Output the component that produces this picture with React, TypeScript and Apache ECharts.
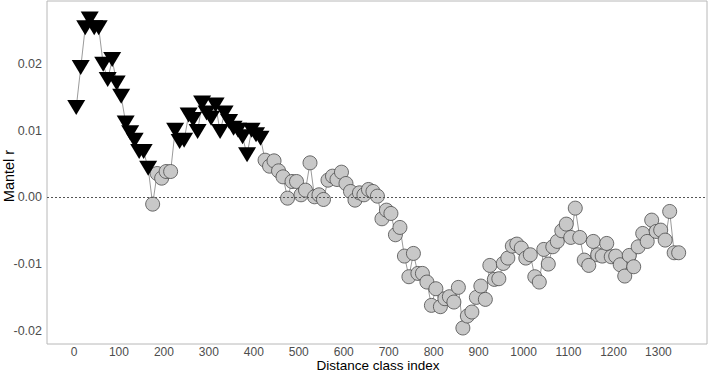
import React, { useEffect, useRef } from "react";
import * as echarts from "echarts";

const distanceClass = [
  5, 15, 25, 35, 45, 55, 65, 75, 85, 95, 105, 115, 125, 135, 145, 155, 165, 175, 185, 195,
  205, 215, 225, 235, 245, 255, 265, 275, 285, 295, 305, 315, 325, 335, 345, 355, 365, 375, 385, 395,
  405, 415, 425, 435, 445, 455, 465, 475, 485, 495, 505, 515, 525, 535, 545, 555, 565, 575, 585, 595,
  605, 615, 625, 635, 645, 655, 665, 675, 685, 695, 705, 715, 725, 735, 745, 755, 765, 775, 785, 795,
  805, 815, 825, 835, 845, 855, 865, 875, 885, 895, 905, 915, 925, 935, 945, 955, 965, 975, 985, 995,
  1005, 1015, 1025, 1035, 1045, 1055, 1065, 1075, 1085, 1095, 1105, 1115, 1125, 1135, 1145, 1155, 1165, 1175, 1185, 1195,
  1205, 1215, 1225, 1235, 1245, 1255, 1265, 1275, 1285, 1295, 1305, 1315, 1325, 1335, 1345,
];

const mantelR = [
  0.0135, 0.0195, 0.0255, 0.0268, 0.0255, 0.0255, 0.02, 0.0177, 0.0207, 0.0172,
  0.0152, 0.0112, 0.0097, 0.0086, 0.0069, 0.0069, 0.0044, -0.001, 0.0036, 0.0029,
  0.0039, 0.0039, 0.0101, 0.0084, 0.0086, 0.0124, 0.0117, 0.0099, 0.0142, 0.0127,
  0.0119, 0.0139, 0.0099, 0.0127, 0.0114, 0.0104, 0.0101, 0.0091, 0.0064, 0.0101,
  0.0094, 0.0089, 0.0056, 0.0047, 0.0055, 0.004, 0.0031, -0.0001, 0.0024, 0.0024,
  0.0004, 0.0011, 0.0052, 0.0001, 0.0004, -0.0003, 0.0026, 0.0032, 0.0027, 0.0038,
  0.0021, 0.0009, -0.0004, 0.0007, 0.0004, 0.0012, 0.0009, 0.0002, -0.0032, -0.0019,
  -0.0024, -0.0056, -0.0045, -0.0088, -0.0119, -0.0084, -0.0114, -0.0114, -0.0127, -0.0162,
  -0.0137, -0.0164, -0.0152, -0.0149, -0.0157, -0.0135, -0.0196, -0.0178, -0.0172, -0.015,
  -0.0133, -0.0153, -0.0102, -0.0123, -0.0122, -0.0099, -0.0091, -0.0073, -0.007, -0.0076,
  -0.0091, -0.0086, -0.0119, -0.0127, -0.0078, -0.01, -0.0074, -0.0066, -0.005, -0.004,
  -0.006, -0.0016, -0.006, -0.0094, -0.0102, -0.0066, -0.0086, -0.0088, -0.0069, -0.0089,
  -0.0088, -0.0101, -0.0118, -0.0087, -0.0104, -0.0074, -0.0054, -0.0066, -0.0034, -0.0051,
  -0.0049, -0.0064, -0.0021, -0.0083, -0.0083,
];

const significant = [
  1, 1, 1, 1, 1, 1, 1, 1, 1, 1, 1, 1, 1, 1, 1, 1, 1, 0, 0, 0,
  0, 0, 1, 1, 1, 1, 1, 1, 1, 1, 1, 1, 1, 1, 1, 1, 1, 1, 1, 1,
  1, 1, 0, 0, 0, 0, 0, 0, 0, 0, 0, 0, 0, 0, 0, 0, 0, 0, 0, 0,
  0, 0, 0, 0, 0, 0, 0, 0, 0, 0, 0, 0, 0, 0, 0, 0, 0, 0, 0, 0,
  0, 0, 0, 0, 0, 0, 0, 0, 0, 0, 0, 0, 0, 0, 0, 0, 0, 0, 0, 0,
  0, 0, 0, 0, 0, 0, 0, 0, 0, 0, 0, 0, 0, 0, 0, 0, 0, 0, 0, 0,
  0, 0, 0, 0, 0, 0, 0, 0, 0, 0, 0, 0, 0, 0, 0,
];

const xTicks = [0, 100, 200, 300, 400, 500, 600, 700, 800, 900, 1000, 1100, 1200, 1300];
const yTicks = [-0.02, -0.01, 0, 0.01, 0.02];
const xTitle = "Distance class index";
const yTitle = "Mantel r";

export default function App() {
  const ref = useRef<HTMLDivElement>(null);
  useEffect(() => {
    if (!ref.current) return;
    const chart = echarts.init(ref.current, null, { renderer: "svg" });
    const all = distanceClass.map((x, i) => [x, mantelR[i]]);
    const sig = all.filter((_, i) => significant[i] === 1);
    const nonSig = all.filter((_, i) => significant[i] === 0);
    const font = "Liberation Sans, Arial, sans-serif";
    chart.setOption({
      animation: false,
      backgroundColor: "#ffffff",
      grid: {
        left: 47,
        right: 2,
        top: 1,
        bottom: 29,
        containLabel: false,
        outerBoundsMode: "none",
        show: true,
        borderColor: "#b8b8b8",
        borderWidth: 1,
        backgroundColor: "transparent",
      },
      graphic: [
        {
          type: "text",
          x: 378,
          y: 365.5,
          style: {
            text: xTitle,
            fill: "#000",
            fontSize: 13.5,
            fontFamily: font,
            align: "center",
            verticalAlign: "middle",
          },
        },
        {
          type: "text",
          x: 9,
          y: 176,
          rotation: Math.PI / 2,
          style: {
            text: yTitle,
            fill: "#000",
            fontSize: 14.5,
            fontFamily: font,
            align: "center",
            verticalAlign: "middle",
          },
        },
      ],
      xAxis: {
        type: "value",
        min: -60,
        max: 1408,
        axisLine: { show: false },
        axisTick: { show: false },
        splitLine: { show: false },
        axisLabel: {
          customValues: xTicks,
          color: "#4d4d4d",
          fontSize: 12,
          fontFamily: font,
          margin: 2,
          formatter: (v: number) => String(v),
        },
      },
      yAxis: {
        type: "value",
        min: -0.022,
        max: 0.0295,
        axisLine: { show: false },
        axisTick: { show: false },
        splitLine: { show: false },
        axisLabel: {
          customValues: yTicks,
          color: "#4d4d4d",
          fontSize: 12.5,
          fontFamily: font,
          margin: 5,
          formatter: (v: number) => v.toFixed(2),
        },
      },
      series: [
        {
          type: "line",
          data: all,
          showSymbol: false,
          symbol: "none",
          lineStyle: { color: "#6e6e6e", width: 0.7 },
          z: 1,
          markLine: {
            silent: true,
            symbol: "none",
            label: { show: false },
            lineStyle: { color: "#555", type: [2, 2], width: 1 },
            data: [{ yAxis: 0 }],
          },
        },
        {
          type: "scatter",
          data: nonSig,
          symbol: "circle",
          symbolSize: 14,
          itemStyle: { color: "#c8c8c8", borderColor: "#4a4a4a", borderWidth: 0.8, opacity: 1 },
          z: 2,
        },
        {
          type: "scatter",
          data: sig,
          symbol: "triangle",
          symbolRotate: 180,
          symbolSize: [18, 15],
          itemStyle: { color: "#000000", opacity: 1 },
          z: 3,
        },
      ],
    });
    return () => chart.dispose();
  }, []);
  return (
    <div
      ref={ref}
      style={{ position: "absolute", left: 0, top: 0, width: 709, height: 373, background: "#fff" }}
    />
  );
}
